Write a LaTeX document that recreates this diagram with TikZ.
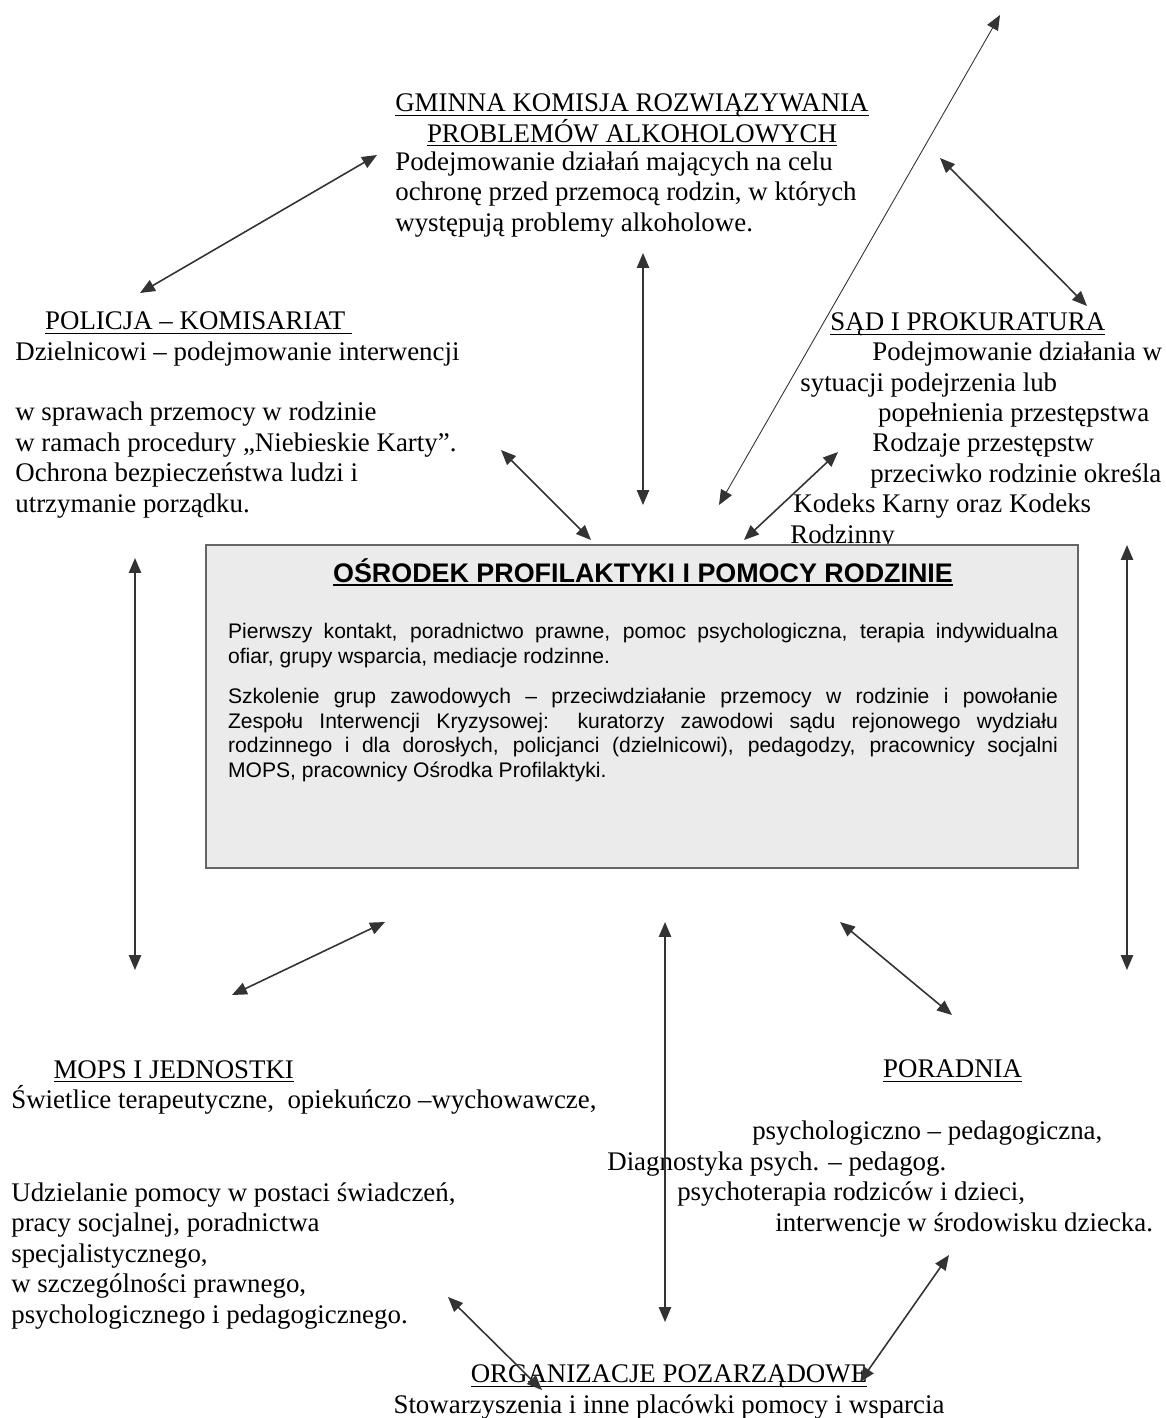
\documentclass[tikz,border=0pt]{standalone}
\usepackage{fontspec}
\setmainfont{Liberation Serif}
\setsansfont{Liberation Sans}
\usepackage{tikz}
\usetikzlibrary{arrows.meta}

\newcommand\txtfont{\fontsize{15.3pt}{17.3pt}\selectfont}
\newcommand\boxfont{\sffamily\fontsize{12pt}{14.2pt}\selectfont}
\newcommand\boxtitlefont{\sffamily\bfseries\fontsize{15.3pt}{17pt}\selectfont}
\newcommand\undl[2][0.6pt]{\leavevmode\setbox0=\hbox{#2}\rlap{\rule[-2.5pt]{\wd0}{#1}}\box0}

\begin{document}
\begin{tikzpicture}[x=0.02cm,y=-0.02cm]
\useasboundingbox (0,0) rectangle (1166,1418);

			% text blocks, placed at the baseline of their last line
			\begin{scope}[every node/.style={font=\txtfont,inner sep=0pt,align=left,anchor=base west}]
				\node[align=center,anchor=base] (gkrpa) at (632,142) {\undl{GMINNA KOMISJA ROZWIĄZYWANIA}\\\undl{PROBLEMÓW ALKOHOLOWYCH}};
				\node (gkrpatxt) at (395,231) {Podejmowanie działań mających na celu\\
					ochronę przed przemocą rodzin, w których\\
					występują problemy alkoholowe.};
				\node (policja) at (15,512) {\hspace*{17pt}\undl{POLICJA – KOMISARIAT\ }\\
					Dzielnicowi – podejmowanie interwencji\\[17.3pt]
					w sprawach przemocy w rodzinie\\
					w ramach procedury „Niebieskie Karty”.\\
					Ochrona bezpieczeństwa ludzi i\\
					utrzymanie porządku.};
				\node (sad) at (790,543) {\hspace*{22.8pt}\undl{SĄD I PROKURATURA}\\
					\hspace*{46.7pt}Podejmowanie działania w\\
					\hspace*{5.7pt}sytuacji podejrzenia lub\\
					\hspace*{50pt}popełnienia przestępstwa\\
					\hspace*{46.7pt}Rodzaje przestępstw\\
					\hspace*{45.5pt}przeciwko rodzinie określa\\
					\hspace*{1.7pt}Kodeks Karny oraz Kodeks\\
					Rodzinny};
				\node (mops) at (11,1323) {\hspace*{24pt}\undl{MOPS I JEDNOSTKI}\\
					Świetlice terapeutyczne,\ \ opiekuńczo –wychowawcze,\\[35.6pt]
					Udzielanie pomocy w postaci świadczeń,\\
					pracy socjalnej, poradnictwa\\
					specjalistycznego,\\
					w szczególności prawnego,\\
					psychologicznego i pedagogicznego.};
				\node (poradnia) at (607,1231) {\hspace*{157pt}\undl{PORADNIA}\\[18pt]
					\hspace*{82.5pt}psychologiczno – pedagogiczna,\\
					Diagnostyka psych. – pedagog.\\
					\hspace*{39.8pt}psychoterapia rodziców i dzieci,\\
					\hspace*{95.6pt}interwencje w środowisku dziecka.};
				\node[align=center,anchor=base] (ngo) at (669,1413) {\undl{ORGANIZACJE POZARZĄDOWE}\\
					Stowarzyszenia i inne placówki pomocy i wsparcia};
			\end{scope}

			% central box
			\node[draw=black!60,fill=black!8,line width=0.8pt,minimum width=17.44cm,minimum height=6.46cm,inner sep=0pt] (osrodek) at (642,706.5) {};
			\node[text width=16.6cm,align=justify,inner sep=0pt,anchor=base,font=\boxfont] (osrodektxt) at (643,582) {%
				\setlength{\parindent}{0pt}%
				{\centering\boxtitlefont\undl[1.1pt]{OŚRODEK PROFILAKTYKI I POMOCY RODZINIE}\par}
				\vspace{17.7pt}
				Pierwszy kontakt, poradnictwo prawne, pomoc psychologiczna, terapia indywidualna\linebreak
				ofiar, grupy wsparcia, mediacje rodzinne.\par
				\vspace{8.6pt}
				Szkolenie grup zawodowych – przeciwdziałanie przemocy w rodzinie i powołanie\linebreak
				Zespołu Interwencji Kryzysowej: kuratorzy zawodowi sądu rejonowego wydziału\linebreak
				rodzinnego i dla dorosłych, policjanci (dzielnicowi), pedagodzy, pracownicy socjalni\linebreak
				MOPS, pracownicy Ośrodka Profilaktyki.\par};

			\coordinate (gp1) at (377,155);  \coordinate (gp2) at (140,293);
			\coordinate (gs1) at (940,158);  \coordinate (gs2) at (1087,306);
			\coordinate (gc1) at (643,253);  \coordinate (gc2) at (643,505);
			\coordinate (lt1) at (719,505);  \coordinate (lt2) at (1000,15);
			\coordinate (pc1) at (501,450);  \coordinate (pc2) at (591,540);
			\coordinate (sc1) at (838,452);  \coordinate (sc2) at (744,540);
			\coordinate (lv1) at (135,558);  \coordinate (lv2) at (135,970);
			\coordinate (rv1) at (1127,545); \coordinate (rv2) at (1127,970);
			\coordinate (mc1) at (232,995);  \coordinate (mc2) at (385,922);
			\coordinate (cc1) at (665,922);  \coordinate (cc2) at (665,1322);
			\coordinate (rc1) at (840,922);  \coordinate (rc2) at (952,1015);
			\coordinate (om1) at (448,1297); \coordinate (om2) at (542,1390);
			\coordinate (or1) at (949,1255); \coordinate (or2) at (860,1382);

			\begin{scope}[>={Triangle[length=8.5pt,width=7pt]},
				every edge/.style={draw=black!80,line width=0.9pt}]
				\path (gp1) edge[<->] (gp2);
				\path (gs1) edge[<->] (gs2);
				\path (gc1) edge[<->] (gc2);
				\path (lt1) edge[<->,line width=0.5pt] (lt2);
				\path (pc1) edge[<->] (pc2);
				\path (sc1) edge[<->] (sc2);
				\path (lv1) edge[<->] (lv2);
				\path (rv1) edge[<->] (rv2);
				\path (mc1) edge[<->] (mc2);
				\path (cc1) edge[<->] (cc2);
				\path (rc1) edge[<->] (rc2);
				\path (om1) edge[<->] (om2);
				\path (or1) edge[<->] (or2);
			\end{scope}
		\end{tikzpicture}
\end{document}
